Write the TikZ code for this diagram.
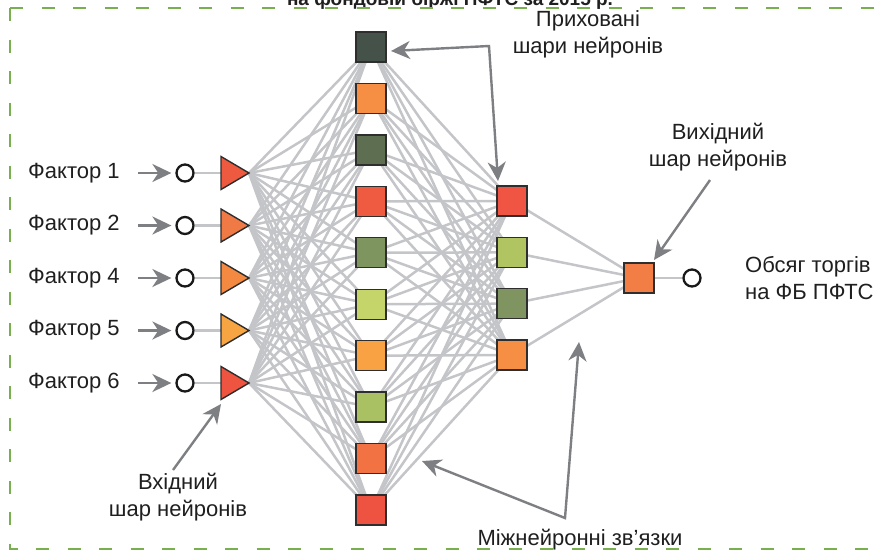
\documentclass[tikz,border=0pt]{standalone}
\usepackage{fontspec}
\setmainfont{Liberation Sans}
\usetikzlibrary{arrows.meta,backgrounds}
\definecolor{connGray}{HTML}{C4C5C8}
\definecolor{arrGray}{HTML}{7D7F82}
\definecolor{frameGreen}{HTML}{78B04F}
\definecolor{edgeDark}{HTML}{2E2E2E}
\definecolor{tA}{HTML}{EE5A3F}
\definecolor{tB}{HTML}{F07A45}
\definecolor{tC}{HTML}{F48A42}
\definecolor{tD}{HTML}{F7A443}
\definecolor{tE}{HTML}{EE5440}
\definecolor{hA}{HTML}{44524A}
\definecolor{hB}{HTML}{F68E43}
\definecolor{hC}{HTML}{5E6E50}
\definecolor{hD}{HTML}{EF5B41}
\definecolor{hE}{HTML}{7F9560}
\definecolor{hF}{HTML}{C6D56A}
\definecolor{hG}{HTML}{F8A243}
\definecolor{hH}{HTML}{A9C163}
\definecolor{hI}{HTML}{F27244}
\definecolor{hJ}{HTML}{EE5241}
\definecolor{gA}{HTML}{EF5542}
\definecolor{gB}{HTML}{B0C462}
\definecolor{gC}{HTML}{7F9460}
\definecolor{gD}{HTML}{F68F43}
\definecolor{oA}{HTML}{F27D45}
\begin{document}
\begin{tikzpicture}[x=1pt,y=-1pt,
  conn/.style={draw=connGray, line width=2.5pt},
  sq/.style={draw=edgeDark, line width=1.4pt, minimum size=30pt, inner sep=0pt, outer sep=0pt},
  tri/.style={draw=edgeDark, line width=1.4pt, line join=miter},
  io/.style={circle, draw=black!90, line width=2.3pt, minimum size=17pt, inner sep=0pt},
  arr/.style={draw=arrGray, line width=2.4pt, -{Stealth[length=19pt,width=18pt,inset=6pt]}},
  barr/.style={draw=arrGray, line width=2.4pt, {Stealth[length=19pt,width=18pt,inset=6pt]}-{Stealth[length=19pt,width=18pt,inset=6pt]}},
  lbl/.style={font=\fontsize{22}{27}\selectfont, inner sep=0pt, align=center, text=black!88}
]
\useasboundingbox (0,0) rectangle (883,558);

\node[font=\bfseries\fontsize{19}{22}\selectfont, anchor=base, inner sep=0pt, text=black!88] (title) at (450,5) {на фондовій біржі ПФТС за 2015 р.};
% frame
\draw[frameGreen, line width=2.4pt, dash pattern=on 13pt off 18.5pt] (10,8) -- (900,8);
\draw[frameGreen, line width=2.4pt, dash pattern=on 13pt off 18.5pt] (10,8) -- (10,549) -- (900,549);

% input layer
\foreach \i/\n/\c in {1/1/tA,2/2/tB,3/4/tC,4/5/tD,5/6/tE}{
  \pgfmathsetmacro{\yy}{173+52.5*(\i-1)}
  \node[lbl, anchor=west] (f\i) at (28,\yy) {Фактор \n};
  \node[io] (in\i) at (185,\yy) {};
  \coordinate (tb\i) at (221,\yy);
  \coordinate (tt\i) at (249,\yy);
  \coordinate (as\i) at (138,\yy);
  \draw[arr, shorten >=4pt] (as\i) -- (in\i.west);
  \draw[tri, fill=\c] (221,\yy-16.5) -- (tt\i) -- (221,\yy+16.5) -- cycle;
}

% hidden layer 1
\foreach \j/\c in {1/hA,2/hB,3/hC,4/hD,5/hE,6/hF,7/hG,8/hH,9/hI,10/hJ}{
  \node[sq, fill=\c] (h\j) at (371,{47+51.44*(\j-1)}) {};
}
% hidden layer 2
\foreach \k/\c in {1/gA,2/gB,3/gC,4/gD}{
  \node[sq, fill=\c] (g\k) at (512,{201+51.33*(\k-1)}) {};
}
% output
\node[sq, fill=oA] (out) at (639,278) {};
\node[io] (oc) at (692,278) {};

\begin{pgfonlayer}{background}
  \foreach \i in {1,...,5}{
    \draw[conn] (in\i.east) -- (tb\i);
    \foreach \j in {1,...,10}{ \draw[conn] (tt\i) -- (h\j.center); }
  }
  \foreach \j in {1,...,10}{
    \foreach \k in {1,...,4}{ \draw[conn] (h\j.center) -- (g\k.center); }
  }
  \foreach \k in {1,...,4}{ \draw[conn] (g\k.center) -- (out.center); }
  \draw[conn] (out.east) -- (oc.west);
\end{pgfonlayer}

% labels
\node[lbl, anchor=west, align=left] (res) at (745,278) {Обсяг торгів\\на ФБ ПФТС};
\node[lbl] (hidlbl) at (588,34) {Приховані\\шари нейронів};
\node[lbl] (outlbl) at (718,147) {Вихідний\\шар нейронів};
\node[lbl] (inlbl) at (178,497) {Вхідний\\шар нейронів};
\node[lbl] (connlbl) at (580,540) {Міжнейронні зв’язки};

% pointer arrows
\coordinate (hc) at (489,46);
\coordinate (ha) at (391,51);
\coordinate (hb) at (498,181);
\draw[barr, line join=miter] (ha) -- (hc) -- (hb);
\coordinate (os) at (710,180);
\coordinate (ot) at (654,260);
\draw[arr] (os) -- (ot);
\coordinate (is) at (173,470);
\coordinate (it) at (221,404);
\draw[arr] (is) -- (it);
\coordinate (cc) at (565,518);
\coordinate (ca) at (422,461);
\coordinate (cb) at (579,342);
\draw[barr] (ca) -- (cc) -- (cb);
\end{tikzpicture}
\end{document}
